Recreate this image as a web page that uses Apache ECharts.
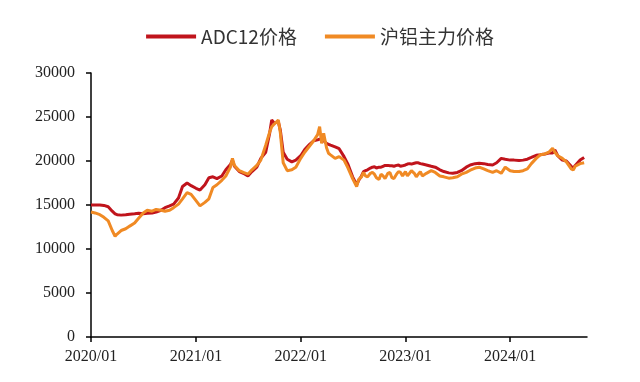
<!DOCTYPE html>
<html>
<head>
<meta charset="utf-8">
<script src="https://cdn.jsdelivr.net/npm/echarts@6/dist/echarts.min.js"></script>
<style>html,body{margin:0;padding:0;background:#fff;}#c{width:640px;height:382px;}</style>
</head>
<body>
<div id="c"></div>
<script>
const seriesNames = ['ADC12价格', '沪铝主力价格'];
const dates = [
'2020-01-01','2020-01-15','2020-02-01','2020-02-15','2020-03-01','2020-03-15','2020-03-25','2020-04-01','2020-04-15','2020-05-01','2020-05-15','2020-06-01','2020-06-15','2020-07-01','2020-07-15','2020-08-01','2020-08-15','2020-09-01','2020-09-15','2020-10-01','2020-10-15','2020-11-01','2020-11-15','2020-12-01','2020-12-15',
'2021-01-01','2021-01-15','2021-02-01','2021-02-15','2021-03-01','2021-03-15','2021-04-01','2021-04-15','2021-05-01','2021-05-08','2021-05-15','2021-06-01','2021-06-15','2021-07-01','2021-07-15','2021-08-01','2021-08-15','2021-09-01','2021-09-15','2021-09-22','2021-10-01','2021-10-15','2021-10-22','2021-11-01','2021-11-15','2021-12-01','2021-12-15',
'2022-01-01','2022-01-15','2022-02-01','2022-02-15','2022-03-01','2022-03-08','2022-03-15','2022-03-22','2022-04-01','2022-04-08','2022-04-15','2022-05-01','2022-05-15','2022-06-01','2022-06-15','2022-07-01','2022-07-15','2022-07-22','2022-08-01','2022-08-08','2022-08-15','2022-08-22','2022-09-01','2022-09-08','2022-09-15','2022-09-22','2022-10-01','2022-10-08','2022-10-15','2022-10-22','2022-11-01','2022-11-08','2022-11-15','2022-11-22','2022-12-01','2022-12-08','2022-12-15','2022-12-22',
'2023-01-01','2023-01-08','2023-01-15','2023-01-22','2023-02-01','2023-02-08','2023-02-15','2023-02-22','2023-03-01','2023-03-15','2023-04-01','2023-04-15','2023-05-01','2023-05-15','2023-06-01','2023-06-15','2023-07-01','2023-07-15','2023-08-01','2023-08-15','2023-09-01','2023-09-15','2023-10-01','2023-10-15','2023-11-01','2023-11-15','2023-12-01','2023-12-15',
'2024-01-01','2024-01-15','2024-02-01','2024-02-15','2024-03-01','2024-03-15','2024-04-01','2024-04-15','2024-05-01','2024-05-15','2024-05-28','2024-06-05','2024-06-15','2024-07-01','2024-07-15','2024-08-01','2024-08-08','2024-08-15','2024-09-01','2024-09-15'
];
const adc12 = [
15000,15000,15000,14950,14800,14300,14000,13900,13850,13900,13950,14000,14050,14000,14050,14100,14200,14400,14700,14900,15100,15800,17100,17500,17200,
16900,16700,17300,18100,18200,18000,18300,19000,19600,20100,19400,18800,18600,18300,18800,19300,20300,21000,23200,24650,24300,24450,23500,21000,20200,19900,20100,
20600,21300,21900,22300,22400,22500,22400,22300,22000,21900,21800,21600,21400,20500,19600,18200,17300,17800,18300,18800,18900,19000,19200,19300,19350,19200,19300,19300,19400,19500,19500,19450,19450,19400,19500,19550,19400,19450,
19550,19650,19700,19650,19750,19800,19800,19700,19650,19550,19400,19300,19000,18800,18650,18600,18700,18900,19300,19550,19700,19750,19700,19600,19550,19800,20300,20200,
20100,20100,20050,20100,20200,20400,20650,20700,20800,20900,20900,21250,20600,20100,20000,19400,19170,19500,20100,20400
];
const shfe = [
14200,14100,13900,13600,13200,12100,11450,11700,12100,12300,12600,12950,13500,14100,14400,14300,14500,14400,14300,14400,14700,15100,15700,16400,16200,
15500,14900,15300,15700,17000,17300,17800,18300,19300,20300,19500,18900,18700,18500,19000,19500,20100,21800,23300,23900,24200,24650,23200,19800,18900,19000,19300,
20300,21000,21700,22300,23000,23900,22000,23150,21500,20880,20700,20300,20500,20100,19200,18000,17100,17900,18200,18700,18300,18200,18600,18700,18500,18100,17900,18500,18300,18000,18600,18700,18100,18000,18500,18800,18700,18300,
18800,18300,18600,18900,18600,18200,18500,18800,18300,18600,18900,18700,18300,18200,18050,18100,18200,18500,18700,18950,19200,19300,19100,18900,18700,18900,18600,19300,
18900,18800,18800,18900,19100,19700,20300,20700,20800,21000,21440,21000,20600,20300,19900,19100,18980,19400,19700,19800
];
const yTicks = [0, 5000, 10000, 15000, 20000, 25000, 30000];
const xTickYears = [2020, 2021, 2022, 2023, 2024];
const xStart = '2020-01-01';
const xEnd = '2024-09-25';

const YEAR_MS = 365.25 * 86400000;
const t0 = Date.parse(xStart);
const toX = d => (Date.parse(d) - t0) / YEAR_MS;
const xTickVals = xTickYears.map(y => toX(y + '-01-01'));

const chart = echarts.init(document.getElementById('c'), null, {renderer: 'canvas'});
const serif = '"Liberation Serif", "DejaVu Serif", serif';
chart.setOption({
  backgroundColor: '#fff',
  animation: false,
  color: ['#C0141C', '#F08A24'],
  legend: {
    data: seriesNames,
    left: 'center',
    top: 22,
    icon: 'rect',
    itemWidth: 50,
    itemHeight: 4,
    itemGap: 28,
    textStyle: {fontFamily: '"Noto Sans CJK SC", "Noto Sans", sans-serif', fontSize: 19, color: '#333'}
  },
  grid: {left: 91, right: 53, top: 73, bottom: 45},
  xAxis: {
    type: 'value',
    min: 0,
    max: toX(xEnd),
    splitLine: {show: false},
    axisLine: {lineStyle: {color: '#000', width: 1.5}},
    axisTick: {show: true, length: 5, lineStyle: {color: '#000', width: 1.5}, customValues: xTickVals},
    axisLabel: {
      customValues: xTickVals,
      margin: 12,
      fontFamily: serif, fontSize: 16, color: '#222',
      formatter: v => Math.round(2020 + v) + '/01'
    }
  },
  yAxis: {
    type: 'value',
    min: yTicks[0],
    max: yTicks[yTicks.length - 1],
    interval: yTicks[1] - yTicks[0],
    splitLine: {show: false},
    axisLine: {show: true, lineStyle: {color: '#000', width: 1.5}},
    axisTick: {show: true, length: 5, lineStyle: {color: '#000', width: 1.5}},
    axisLabel: {margin: 16, fontFamily: serif, fontSize: 16, color: '#222', formatter: v => String(v)}
  },
  series: [
    {name: seriesNames[0], type: 'line', showSymbol: false, symbol: 'none',
     lineStyle: {width: 3, color: '#C0141C'}, itemStyle: {color: '#C0141C'},
     data: dates.map((d, i) => [toX(d), adc12[i]])},
    {name: seriesNames[1], type: 'line', showSymbol: false, symbol: 'none',
     lineStyle: {width: 3, color: '#F08A24'}, itemStyle: {color: '#F08A24'},
     data: dates.map((d, i) => [toX(d), shfe[i]])}
  ]
});
</script>
</body>
</html>
